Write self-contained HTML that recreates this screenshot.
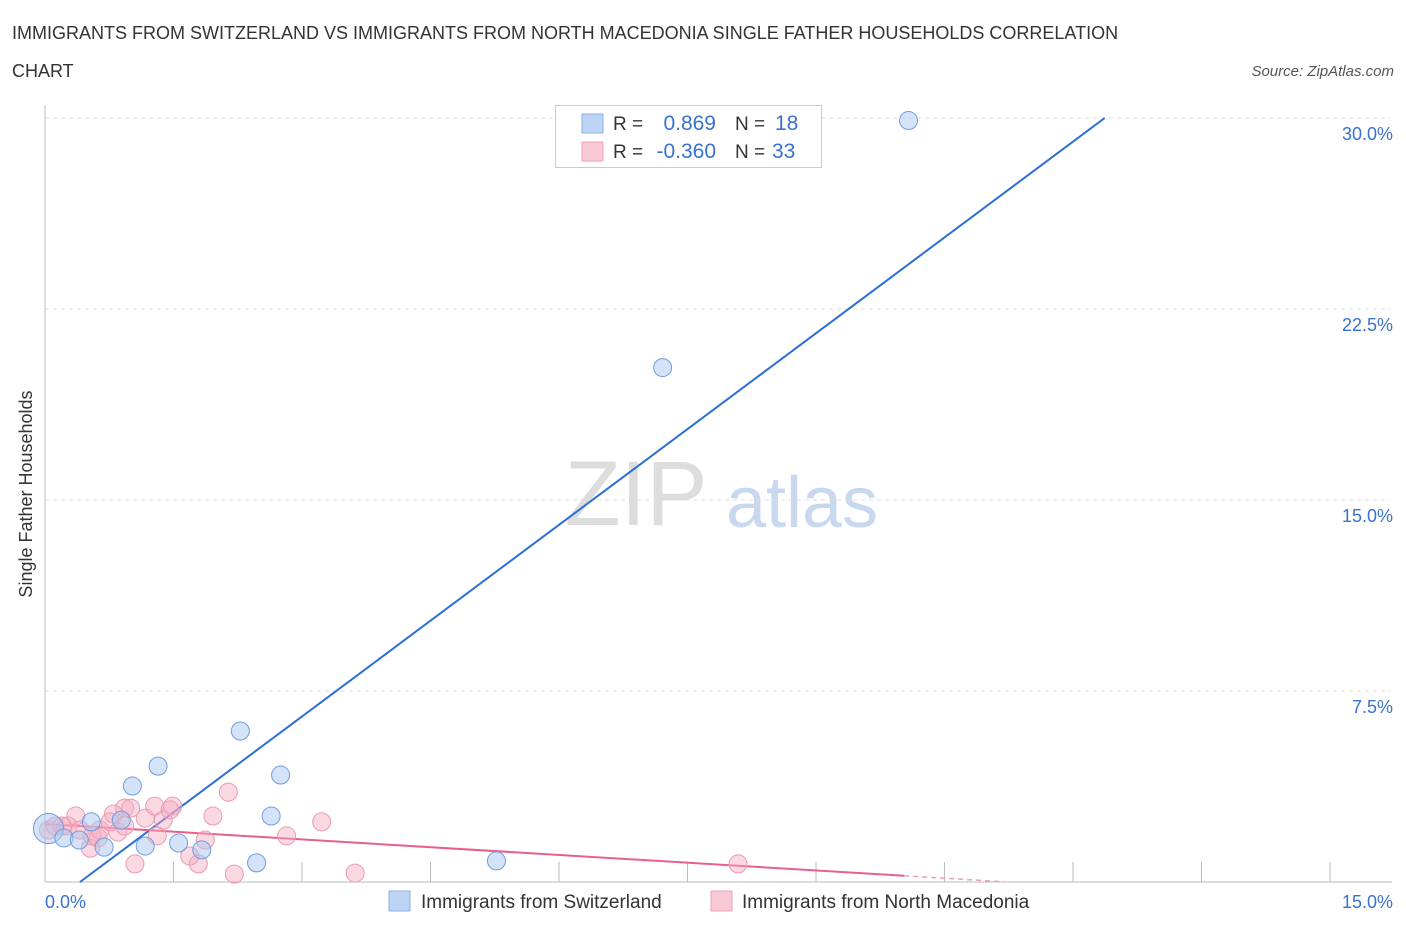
<!DOCTYPE html>
<html><head><meta charset="utf-8">
<style>
body{margin:0;background:#fff;font-family:"Liberation Sans",sans-serif;}
svg text{font-family:"Liberation Sans",sans-serif;}
</style></head>
<body>
<svg id="chart" width="1406" height="930" xmlns="http://www.w3.org/2000/svg">
<text x="12" y="39" font-size="18" fill="#333">IMMIGRANTS FROM SWITZERLAND VS IMMIGRANTS FROM NORTH MACEDONIA SINGLE FATHER HOUSEHOLDS CORRELATION</text>
<text x="12" y="77" font-size="18" fill="#333">CHART</text>
<text x="1394" y="76" font-size="15" fill="#555" font-style="italic" text-anchor="end">Source: ZipAtlas.com</text>
<text x="32" y="494" font-size="18" fill="#333" text-anchor="middle" transform="rotate(-90 32 494)">Single Father Households</text>
<g>
<text x="636" y="525" font-size="92" fill="#ddd" text-anchor="middle" font-family="Liberation Serif">ZIP</text>
<text x="802" y="527" font-size="72" fill="#c8d8ee" text-anchor="middle">atlas</text>
</g>
<g id="grid"></g>
<g id="lines"></g>
<g id="points"></g>
<g>
<rect x="555.5" y="105.5" width="266" height="62" fill="#fff" stroke="#ccc"/>
<rect x="582" y="114" width="21" height="19" fill="#bcd5f5" stroke="#8ab0e5"/>
<rect x="582" y="142" width="21" height="19" fill="#f9c9d6" stroke="#eea0b6"/>
<text x="613" y="130" font-size="19" fill="#333">R = </text><text x="716" y="130" font-size="21" fill="#3a72d0" text-anchor="end">0.869</text>
<text x="735" y="130" font-size="19" fill="#333">N = </text><text x="775" y="130" font-size="21" fill="#3a72d0">18</text>
<text x="613" y="158" font-size="19" fill="#333">R = </text><text x="716" y="158" font-size="21" fill="#3a72d0" text-anchor="end">-0.360</text>
<text x="735" y="158" font-size="19" fill="#333">N = </text><text x="772" y="158" font-size="21" fill="#3a72d0">33</text>
</g>
<g>
<rect x="389" y="891" width="21" height="20" fill="#bcd5f5" stroke="#8ab0e5"/>
<text x="421" y="908" font-size="19" fill="#333">Immigrants from Switzerland</text>
<rect x="711" y="891" width="21" height="20" fill="#f9c9d6" stroke="#eea0b6"/>
<text x="742" y="908" font-size="19" fill="#333">Immigrants from North Macedonia</text>
</g>
</svg>
<script>
const xTicks=[0,1.5,3,4.5,6,7.5,9,10.5,12,13.5,15];
const yTicks=[7.5,15,22.5,30];
const yTickLabels=["7.5%","15.0%","22.5%","30.0%"];
const xEndLabels=["0.0%","15.0%"];
const swissX=[0.04,0.22,0.4,0.54,0.69,0.89,1.02,1.17,1.32,1.56,1.83,2.28,2.47,2.64,2.75,5.27,7.21,10.08];
const swissY=[2.1,1.73,1.65,2.36,1.37,2.43,3.77,1.41,4.55,1.53,1.26,5.93,0.75,2.59,4.2,0.83,20.2,29.9];
const swissR=[15,9,9,9,9,9,9,9,9,9,9,9,9,9,9,9,9,9];
const mkdX=[0.04,0.12,0.2,0.27,0.36,0.41,0.53,0.55,0.62,0.64,0.8,0.76,0.85,0.93,1.0,1.05,1.17,1.28,1.31,1.38,1.49,1.69,1.79,1.87,1.96,2.14,2.21,2.82,3.23,3.62,8.09,0.93,1.46];
const mkdY=[2.04,2.2,2.2,2.2,2.59,2.04,1.33,1.81,1.73,2.04,2.67,2.36,1.96,2.9,2.9,0.71,2.51,2.98,1.81,2.43,2.98,1.02,0.71,1.65,2.59,3.53,0.31,1.81,2.36,0.35,0.71,2.2,2.83];
const swissLine=[-1.024,2.508];
const mkdLine=[2.28,-0.203];
const X0=45,X1=1330,Y0=882,Y1=118;
const sx=v=>X0+(X1-X0)*v/15, sy=v=>Y0-(Y0-Y1)*v/30;
const NS="http://www.w3.org/2000/svg";
function mk(p,t,a){const e=document.createElementNS(NS,t);for(const k in a)e.setAttribute(k,a[k]);p.appendChild(e);return e;}
const grid=document.getElementById('grid');
yTicks.forEach((t,i)=>{
 const l=mk(grid,'line',{x1:X0,x2:X1+60,y1:sy(t),y2:sy(t),stroke:'#ddd','stroke-dasharray':'4,4'});
 
 
 const tx=mk(grid,'text',{x:1393,y:sy(t)+22,'font-size':18,fill:'#3a72d0','text-anchor':'end'});tx.textContent=yTickLabels[i];
 
 
});
const ax=mk(grid,'line',{x1:X0,x2:X0,y1:105,y2:Y0,stroke:'#bbb'});


const bx=mk(grid,'line',{x1:X0,x2:1392,y1:Y0,y2:Y0,stroke:'#bbb'});


xTicks.forEach(t=>{if(t===0)return;
 const l=mk(grid,'line',{x1:sx(t),x2:sx(t),y1:Y0-20,y2:Y0,stroke:'#bbb'});
 
 
});
const xl0=mk(grid,'text',{x:45,y:908,'font-size':18,fill:'#3a72d0'});xl0.textContent=xEndLabels[0];


const xl1=mk(grid,'text',{x:1393,y:908,'font-size':18,fill:'#3a72d0','text-anchor':'end'});xl1.textContent=xEndLabels[1];


const pts=document.getElementById('points');
mkdX.forEach((x,i)=>{const c=mk(pts,'circle',{cx:sx(x),cy:sy(mkdY[i]),r:9,fill:'rgba(246,170,192,0.45)',stroke:'#eb9ab2','stroke-width':1});
 
 });
swissX.forEach((x,i)=>{const c=mk(pts,'circle',{cx:sx(x),cy:sy(swissY[i]),r:swissR[i],fill:'rgba(170,200,240,0.5)',stroke:'#6f9de0','stroke-width':1});
 
 });
const lines=document.getElementById('lines');
const bxs=-swissLine[0]/swissLine[1], bxe=(30-swissLine[0])/swissLine[1];
const bl=mk(lines,'line',{x1:sx(bxs),y1:sy(0),x2:sx(bxe),y2:sy(30),stroke:'#2a6fd6','stroke-width':2});


const pe=10.03, pz=-mkdLine[0]/mkdLine[1];
const pl=mk(lines,'line',{x1:sx(0),y1:sy(mkdLine[0]),x2:sx(pe),y2:sy(mkdLine[0]+mkdLine[1]*pe),stroke:'#e8608a','stroke-width':2});


const pd=mk(lines,'line',{x1:sx(pe),y1:sy(mkdLine[0]+mkdLine[1]*pe),x2:sx(Math.min(pz,11.2)),y2:sy(Math.max(0,mkdLine[0]+mkdLine[1]*Math.min(pz,11.2))),stroke:'#e8a0b5','stroke-width':1.5,'stroke-dasharray':'5,4'});


</script>
</body></html>
